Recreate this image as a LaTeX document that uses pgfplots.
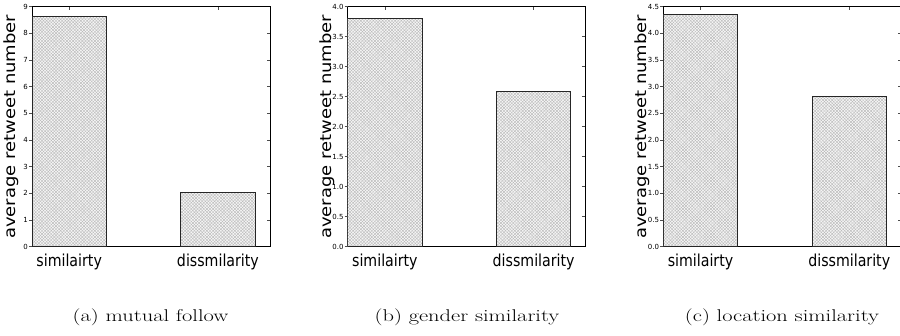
\documentclass[border=0pt]{standalone}
\usepackage{pgfplots}
\pgfplotsset{compat=1.18}
\usepackage{pgfplotstable}
\usepackage{fontspec}
\usetikzlibrary{patterns.meta}
\newfontfamily\dejavu{DejaVu Sans}

% average retweet number per group
\pgfplotstableread{
x y
0.25 8.62
1.25 2.02
}\mutualdata
\pgfplotstableread{
x y
0.25 3.80
1.25 2.58
}\genderdata
\pgfplotstableread{
x y
0.25 4.36
1.25 2.81
}\locationdata

\pgfplotsset{
  panel/.style={
    scale only axis, width=238pt, height=240pt,
    anchor=south west,
    xmin=0, xmax=1.6, ymin=0,
    axis line style={black, line width=0.9pt},
    xtick={0.25,1.25},
    xticklabels={\scalebox{0.86}[1]{similairty},\scalebox{0.86}[1]{dissmilarity}},
    tick align=inside, major tick length=3.5pt,
    ytick pos=right, yticklabel pos=left, xticklabel pos=left,
    every tick/.style={gray!60!black, line width=0.6pt},
    x tick label style={font=\dejavu\fontsize{16.5}{16.5}\selectfont, inner sep=0pt, yshift=-7pt},
    y tick label style={font=\dejavu\fontsize{7}{7}\selectfont, inner sep=0pt, xshift=-4pt},
    every axis y label/.style={at={(axis description cs:-0.088,0.5)}, rotate=90, anchor=center,
      font=\dejavu\fontsize{15.5}{15.5}\selectfont},
    ylabel={\scalebox{1.16}[1]{average retweet number}},
  },
  leftticks/.style={
    scale only axis, width=238pt, height=240pt,
    anchor=south west,
    xmin=0, xmax=1.6, ymin=0,
    hide x axis, axis y line*=left, axis line style={draw=none},
    tick align=outside, major tick length=3pt,
    every tick/.style={gray!60!black, line width=0.6pt},
    yticklabels={},
  },
  hatchbar/.style={
    ybar, bar width=0.5, bar shift=0pt,
    draw=black!85, line width=0.9pt, fill=gray!8,
    postaction={pattern={Lines[angle=45,distance=2.2pt,line width=0.3pt]}, pattern color=gray!60},
    postaction={pattern={Lines[angle=-45,distance=2.2pt,line width=0.3pt]}, pattern color=gray!60},
  },
}

\begin{document}
\begin{tikzpicture}
\useasboundingbox (0pt,0pt) rectangle (900pt,335pt);

% (a) mutual follow
\begin{axis}[panel, at={(32pt,88.3pt)}, ymax=9,
  ytick={0,1,...,9}, yticklabels={0,1,2,3,4,5,6,7,8,9}]
  \addplot[hatchbar] table[x=x,y=y] {\mutualdata};
\end{axis}
\begin{axis}[leftticks, at={(32pt,88.3pt)}, ymax=9, ytick={0,1,...,9}]
  \addplot[draw=none] coordinates {(0,0)};
\end{axis}

% (b) gender similarity
\begin{axis}[panel, at={(347.7pt,88.3pt)}, ymax=4,
  ytick={0,0.5,...,4}, yticklabels={0.0,0.5,1.0,1.5,2.0,2.5,3.0,3.5,4.0}]
  \addplot[hatchbar] table[x=x,y=y] {\genderdata};
\end{axis}
\begin{axis}[leftticks, at={(347.7pt,88.3pt)}, ymax=4, ytick={0,0.5,...,4}]
  \addplot[draw=none] coordinates {(0,0)};
\end{axis}

% (c) location similarity
\begin{axis}[panel, at={(663.3pt,88.3pt)}, ymax=4.5,
  ytick={0,0.5,...,4.5}, yticklabels={0.0,0.5,1.0,1.5,2.0,2.5,3.0,3.5,4.0,4.5}]
  \addplot[hatchbar] table[x=x,y=y] {\locationdata};
\end{axis}
\begin{axis}[leftticks, at={(663.3pt,88.3pt)}, ymax=4.5, ytick={0,0.5,...,4.5}]
  \addplot[draw=none] coordinates {(0,0)};
\end{axis}

% sub-captions
\begin{scope}[every node/.style={anchor=base, inner sep=0pt, font=\fontsize{17}{17}\selectfont}]
  \node at (150.5pt,14pt) {\scalebox{1.32}[1]{(a) mutual follow}};
  \node at (467pt,14pt) {\scalebox{1.32}[1]{(b) gender similarity}};
  \node at (782pt,14pt) {\scalebox{1.32}[1]{(c) location similarity}};
\end{scope}
\end{tikzpicture}
\end{document}
